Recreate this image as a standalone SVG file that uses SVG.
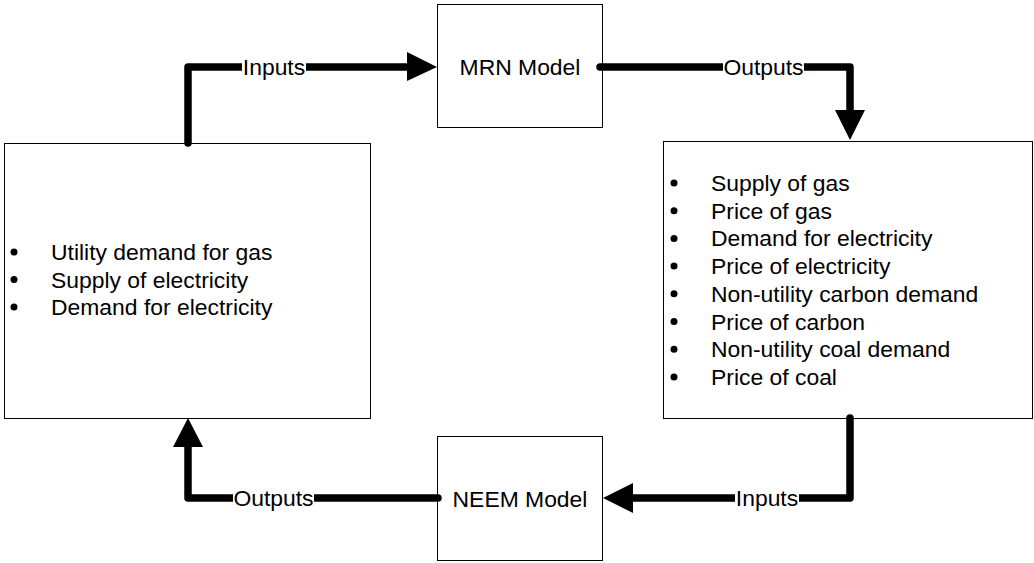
<svg xmlns="http://www.w3.org/2000/svg" width="1034" height="563" viewBox="0 0 1034 563">
<style>
text{font-family:"Liberation Sans",Arial,sans-serif;font-size:22.9px;fill:#000}
.box{fill:#fff;stroke:#000;stroke-width:1}
.conn{fill:none;stroke:#000;stroke-width:7.5;stroke-linecap:round;stroke-linejoin:round}
.lblbg{fill:#fff}
.c{text-anchor:middle}
</style>
<rect width="1034" height="563" fill="#fff"/>
<g id="left-box">
<rect class="box" x="4.5" y="143.5" width="366" height="275"/>
<circle cx="14" cy="252" r="3.5"/><text x="51" y="260">Utility demand for gas</text>
<circle cx="14" cy="279.5" r="3.5"/><text x="51" y="287.5">Supply of electricity</text>
<circle cx="14" cy="307" r="3.5"/><text x="51" y="315">Demand for electricity</text>
</g>
<g id="mrn">
<rect class="box" x="437.5" y="4.5" width="165" height="123"/>
<text class="c" x="520" y="75">MRN Model</text>
</g>
<g id="right-box">
<rect class="box" x="663.5" y="141.5" width="369" height="277"/>
<circle cx="674" cy="183" r="3.5"/><text x="711" y="191">Supply of gas</text>
<circle cx="674" cy="210.7" r="3.5"/><text x="711" y="218.7">Price of gas</text>
<circle cx="674" cy="238.4" r="3.5"/><text x="711" y="246.4">Demand for electricity</text>
<circle cx="674" cy="266.1" r="3.5"/><text x="711" y="274.1">Price of electricity</text>
<circle cx="674" cy="293.8" r="3.5"/><text x="711" y="301.8">Non-utility carbon demand</text>
<circle cx="674" cy="321.5" r="3.5"/><text x="711" y="329.5">Price of carbon</text>
<circle cx="674" cy="349.2" r="3.5"/><text x="711" y="357.2">Non-utility coal demand</text>
<circle cx="674" cy="376.9" r="3.5"/><text x="711" y="384.9">Price of coal</text>
</g>
<g id="neem">
<rect class="box" x="437.5" y="436.5" width="165" height="124"/>
<text class="c" x="520" y="507">NEEM Model</text>
</g>
<g id="connectors">
<path class="conn" d="M188 143 V67 H410"/>
<polygon points="407,52 437,67 407,81"/>
<rect class="lblbg" x="242" y="56" width="64" height="22"/>
<text class="c" x="274" y="75">Inputs</text>

<path class="conn" d="M600 67 H850 V112"/>
<polygon points="835,110 850,140 865,110"/>
<rect class="lblbg" x="723" y="56" width="81" height="22"/>
<text class="c" x="763.5" y="75">Outputs</text>

<path class="conn" d="M850 418 V498 H630"/>
<polygon points="633,483 603,498 633,513"/>
<rect class="lblbg" x="735" y="487" width="64" height="22"/>
<text class="c" x="767" y="506">Inputs</text>

<path class="conn" d="M438 498 H188 V445"/>
<polygon points="173,447 188,418 203,447"/>
<rect class="lblbg" x="233" y="487" width="81" height="22"/>
<text class="c" x="273.5" y="506">Outputs</text>
</g>
</svg>
